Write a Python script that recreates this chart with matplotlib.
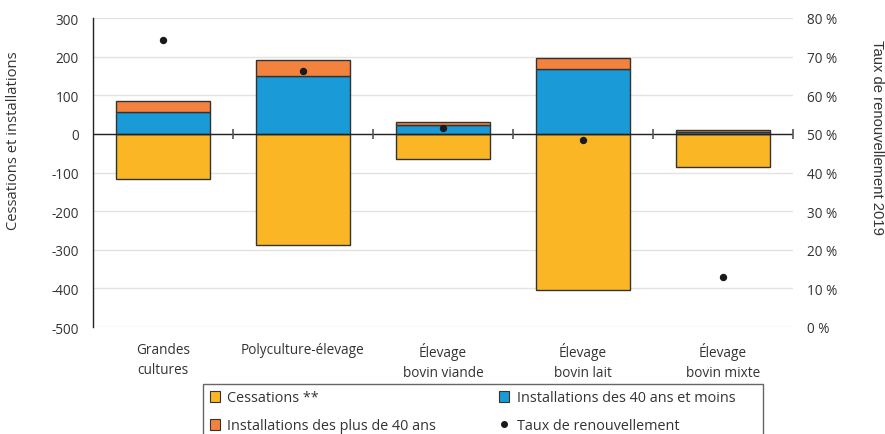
import numpy as np
import matplotlib.pyplot as plt
from matplotlib.patches import Patch, Rectangle
from matplotlib.lines import Line2D
from matplotlib.ticker import FuncFormatter

plt.rcParams['font.family'] = ['Open Sans', 'DejaVu Sans']
plt.rcParams['axes.unicode_minus'] = False

categories = ["Grandes\ncultures", "Polyculture-élevage", "Élevage\nbovin viande",
              "Élevage\nbovin lait", "Élevage\nbovin mixte"]
cessations = [-117, -288, -65, -404, -85]
install_40_moins = [57, 150, 22, 168, 6]
install_plus_40 = [28, 42, 10, 29, 4]
taux_renouvellement = [74.3, 66.3, 51.4, 48.3, 13.0]

col_cess = '#FAB625'
col_moins = '#1A9BD7'
col_plus = '#F3823E'
edge = '#333333'
txt = '#333333'

fig = plt.figure(figsize=(8.85, 4.35), dpi=100)
ax = fig.add_axes([93 / 885, 1 - 328 / 435, 700 / 885, 309 / 435])

x = np.arange(len(categories))
w = 0.665

ax.bar(x, cessations, w, color=col_cess, edgecolor=edge, linewidth=1, zorder=3)
ax.bar(x, install_40_moins, w, color=col_moins, edgecolor=edge, linewidth=1, zorder=3)
ax.bar(x, install_plus_40, w, bottom=install_40_moins, color=col_plus,
       edgecolor=edge, linewidth=1, zorder=3)

ax.set_xlim(-0.5, len(categories) - 0.5)
ax.set_ylim(-500, 300)
ax.set_yticks(range(-500, 301, 100))
ax.grid(axis='y', color='#e3e3e3', linewidth=1, zorder=0)
ax.axhline(0, color='#222222', linewidth=1, zorder=4)

# small separators between the categories, on the zero line
bounds = np.arange(len(categories)) + 0.5
ax.vlines(bounds, -12, 12, color='#555555', linewidth=1.2, zorder=4, clip_on=False)

for s in ['top', 'right', 'bottom']:
    ax.spines[s].set_visible(False)
ax.spines['left'].set_color('#222222')
ax.spines['left'].set_linewidth(1)

ax.set_xticks(x)
ax.set_xticklabels(categories, fontsize=9.8, color=txt, linespacing=1.4)
ax.tick_params(axis='x', length=0, pad=11)
ax.tick_params(axis='y', length=0, pad=10, labelsize=9.8, labelcolor=txt)

ax2 = ax.twinx()
ax2.plot(x, taux_renouvellement, 'o', color='#1a1a1a', markersize=4.3, zorder=5)
ax2.set_ylim(0, 80)
ax2.set_yticks(range(0, 81, 10))
ax2.yaxis.set_major_formatter(FuncFormatter(lambda v, p: f"{v:.0f} %"))
ax2.tick_params(axis='y', length=0, pad=10, labelsize=9.8, labelcolor=txt)
for s in ax2.spines.values():
    s.set_visible(False)

fig.text(14 / 885, 1 - 141 / 435, "Cessations et installations", rotation=90,
         ha='center', va='center', fontsize=10.6, color=txt)
fig.text(877 / 885, 1 - 137 / 435, "Taux de renouvellement 2019", rotation=-90,
         ha='center', va='center', fontsize=10.6, color=txt,
         family=['Liberation Sans', 'DejaVu Sans'])

handles = [
    Patch(facecolor=col_cess, edgecolor=edge, linewidth=0.8),
    Patch(facecolor=col_plus, edgecolor=edge, linewidth=0.8),
    Patch(facecolor=col_moins, edgecolor=edge, linewidth=0.8),
    Line2D([], [], marker='o', linestyle='none', color='#1a1a1a', markersize=4),
]
labels = ["Cessations **", "Installations des plus de 40 ans",
          "Installations des 40 ans et moins", "Taux de renouvellement"]
leg = fig.legend(handles, labels, ncol=2, loc='upper left',
                 bbox_to_anchor=(203 / 885, 1 - 385 / 435), fontsize=10.4,
                 frameon=False, handlelength=0.7, handleheight=0.7,
                 handletextpad=0.5, columnspacing=4.4, labelspacing=0.9,
                 borderpad=0.45, borderaxespad=0)
for t in leg.get_texts():
    t.set_color(txt)

# legend box, wider than the entries and running off the bottom edge
fig.patches.append(Rectangle((203 / 885, -0.1), 560 / 885, 0.1 + 1 - 385 / 435,
                             transform=fig.transFigure, fill=False,
                             edgecolor='#666666', linewidth=1))

fig.savefig('out.png', dpi=100)
